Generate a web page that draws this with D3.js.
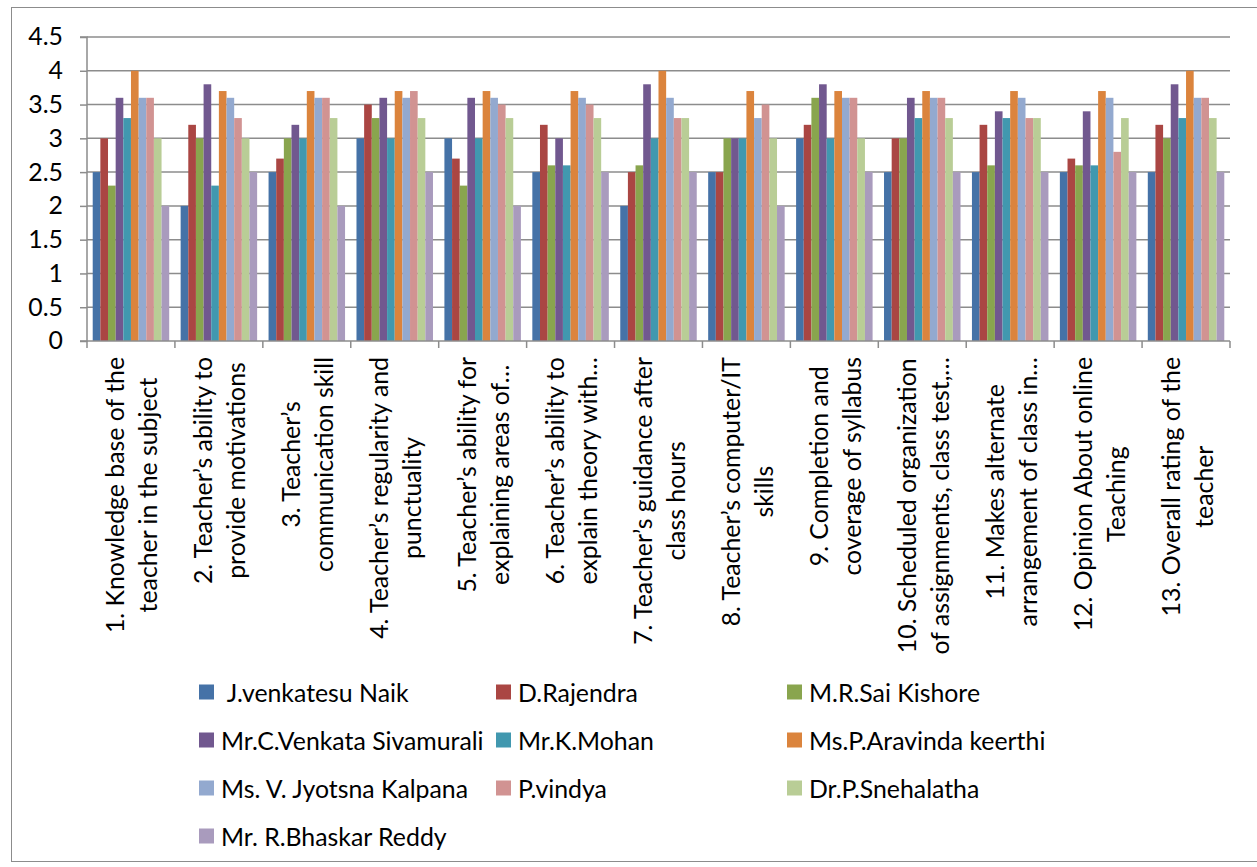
<!DOCTYPE html>
<html>
<head>
<meta charset="utf-8">
<script src="https://cdn.jsdelivr.net/npm/d3@7/dist/d3.min.js"></script>
<style>
  html, body { margin: 0; padding: 0; background: #fff; }
  svg { display: block; }
  text { font-family: Lato, "Liberation Sans", sans-serif; fill: #000; }
</style>
</head>
<body>
<svg id="chart" width="1257" height="867"></svg>
<script>
// ---- data ----
const categories = ["c1","c2","c3","c4","c5","c6","c7","c8","c9","c10","c11","c12","c13"];
const categoryLabels = [
  ["1. Knowledge base of the", "teacher in the subject"],
  ["2. Teacher’s ability to", "provide motivations"],
  ["3. Teacher’s", "communication skill"],
  ["4. Teacher’s regularity and", "punctuality"],
  ["5. Teacher’s ability for", "explaining areas of…"],
  ["6. Teacher’s ability to", "explain theory with…"],
  ["7. Teacher’s guidance after", "class hours"],
  ["8. Teacher’s computer/IT", "skills"],
  ["9. Completion and", "coverage of syllabus"],
  ["10. Scheduled organization", "of assignments, class test,…"],
  ["11. Makes alternate", "arrangement of class in…"],
  ["12. Opinion About online", "Teaching"],
  ["13. Overall rating of the", "teacher"]
];
const seriesNames = [
  " J.venkatesu Naik", "D.Rajendra", "M.R.Sai Kishore",
  "Mr.C.Venkata Sivamurali", "Mr.K.Mohan", "Ms.P.Aravinda keerthi",
  "Ms. V. Jyotsna Kalpana", "P.vindya", "Dr.P.Snehalatha",
  "Mr. R.Bhaskar Reddy"
];
const naik        = [2.5, 2.0, 2.5, 3.0, 3.0, 2.5, 2.0, 2.5, 3.0, 2.5, 2.5, 2.5, 2.5];
const rajendra    = [3.0, 3.2, 2.7, 3.5, 2.7, 3.2, 2.5, 2.5, 3.2, 3.0, 3.2, 2.7, 3.2];
const saiKishore  = [2.3, 3.0, 3.0, 3.3, 2.3, 2.6, 2.6, 3.0, 3.6, 3.0, 2.6, 2.6, 3.0];
const sivamurali  = [3.6, 3.8, 3.2, 3.6, 3.6, 3.0, 3.8, 3.0, 3.8, 3.6, 3.4, 3.4, 3.8];
const mohan       = [3.3, 2.3, 3.0, 3.0, 3.0, 2.6, 3.0, 3.0, 3.0, 3.3, 3.3, 2.6, 3.3];
const aravinda    = [4.0, 3.7, 3.7, 3.7, 3.7, 3.7, 4.0, 3.7, 3.7, 3.7, 3.7, 3.7, 4.0];
const jyotsna     = [3.6, 3.6, 3.6, 3.6, 3.6, 3.6, 3.6, 3.3, 3.6, 3.6, 3.6, 3.6, 3.6];
const vindya      = [3.6, 3.3, 3.6, 3.7, 3.5, 3.5, 3.3, 3.5, 3.6, 3.6, 3.3, 2.8, 3.6];
const snehalatha  = [3.0, 3.0, 3.3, 3.3, 3.3, 3.3, 3.3, 3.0, 3.0, 3.3, 3.3, 3.3, 3.3];
const bhaskar     = [2.0, 2.5, 2.0, 2.5, 2.0, 2.5, 2.5, 2.0, 2.5, 2.5, 2.5, 2.5, 2.5];
const seriesValues = [naik, rajendra, saiKishore, sivamurali, mohan, aravinda, jyotsna, vindya, snehalatha, bhaskar];
const yTicks = [0, 0.5, 1, 1.5, 2, 2.5, 3, 3.5, 4, 4.5];
const yTickLabels = ["0", "0.5", "1", "1.5", "2", "2.5", "3", "3.5", "4", "4.5"];

// ---- styles ----
const colors = ["#4572A7","#AA4643","#89A54E","#71588F","#4198AF","#DB843D","#93A9CF","#D19392","#B9CD96","#A99BBD"];
const gridColor = "#8c8c8c";

const svg = d3.select("#chart");

// calibrate font size to match reference text widths
const probe = svg.append("text").attr("font-size", 100).text("communication skill");
const probeW = probe.node().getComputedTextLength();
probe.remove();
const fs = Math.max(18, Math.min(30, 100 * 215 / probeW));

// outer frame
svg.append("rect")
  .attr("x", 11.5).attr("y", 7.5).attr("width", 1260).attr("height", 854)
  .attr("fill", "none").attr("stroke", "#8c8c8c").attr("stroke-width", 1);

const pLeft = 87, pRight = 1230, pTop = 37, pBottom = 341;

const x = d3.scaleBand().domain(categories).range([pLeft, pRight]).paddingInner(0.13).paddingOuter(0.065);
const xs = d3.scaleBand().domain(d3.range(seriesNames.length)).range([0, x.bandwidth()]).padding(0);
const y = d3.scaleLinear().domain([0, 4.5]).range([pBottom, pTop]);

// gridlines
svg.append("g").selectAll("line").data(yTicks.filter(d => d > 0)).join("line")
  .attr("x1", pLeft).attr("x2", pRight)
  .attr("y1", d => y(d)).attr("y2", d => y(d))
  .attr("stroke", gridColor).attr("stroke-width", 1.5);

// bars
const groups = svg.append("g").selectAll("g").data(categories).join("g")
  .attr("transform", c => `translate(${x(c)},0)`);
groups.selectAll("rect")
  .data((c, ci) => seriesValues.map((vals, si) => ({ si, v: vals[ci] })))
  .join("rect")
  .attr("x", d => xs(d.si))
  .attr("width", xs.bandwidth())
  .attr("y", d => y(d.v))
  .attr("height", d => y(0) - y(d.v))
  .attr("fill", d => colors[d.si]);

// y axis
const yAxis = d3.axisLeft(y).tickValues(yTicks).tickFormat((d, i) => yTickLabels[i]).tickSize(7).tickPadding(17);
const gy = svg.append("g").attr("transform", `translate(${pLeft},0)`).call(yAxis);
gy.select(".domain").attr("stroke", gridColor).attr("stroke-width", 1.5).attr("d", `M-7,${y(4.5)}H0V${y(0)}H-7`);
gy.selectAll(".tick line").attr("stroke", gridColor).attr("stroke-width", 1.5);
gy.selectAll(".tick text").attr("font-size", fs).attr("font-family", "Lato, 'Liberation Sans', sans-serif").attr("fill", "#000");

// x axis line and boundary ticks
const step = x.step();
const offs = step * x.paddingOuter();
const boundaries = categories.map(c => x(c) - offs).concat([pRight]);
const gx = svg.append("g");
gx.append("line").attr("x1", pLeft).attr("x2", pRight).attr("y1", pBottom).attr("y2", pBottom)
  .attr("stroke", gridColor).attr("stroke-width", 1.5);
gx.selectAll("line.tk").data(boundaries).join("line").attr("class", "tk")
  .attr("x1", d => d).attr("x2", d => d).attr("y1", pBottom).attr("y2", pBottom + 7)
  .attr("stroke", gridColor).attr("stroke-width", 1.5);

// category labels (rotated, two centered lines)
const labelTop = 357;
const lineGap = 33;
categories.forEach((c, ci) => {
  const cx = x(c) + x.bandwidth() / 2;
  const g = svg.append("g").attr("transform", `translate(${cx},${labelTop}) rotate(-90)`);
  const lines = categoryLabels[ci];
  const texts = lines.map((ln, li) => g.append("text")
    .attr("font-size", fs)
    .attr("text-anchor", "middle")
    .attr("dominant-baseline", "central")
    .attr("y", (li - (lines.length - 1) / 2) * lineGap)
    .text(ln));
  const W = d3.max(texts, t => t.node().getComputedTextLength());
  texts.forEach(t => t.attr("x", -W / 2));
});

// legend
const legCols = [199, 496, 787];
const legRowY = [692, 740, 788, 836];
const legend = svg.append("g");
seriesNames.forEach((name, i) => {
  const col = i % 3, row = Math.floor(i / 3);
  const lx = legCols[col], ly = legRowY[row];
  legend.append("rect").attr("x", lx).attr("y", ly - 7.5).attr("width", 15).attr("height", 15).attr("fill", colors[i]);
  legend.append("text").attr("x", lx + 22).attr("y", ly).attr("dominant-baseline", "central")
    .attr("font-size", fs).attr("xml:space", "preserve").style("white-space", "pre").text(name);
});
</script>
</body>
</html>
